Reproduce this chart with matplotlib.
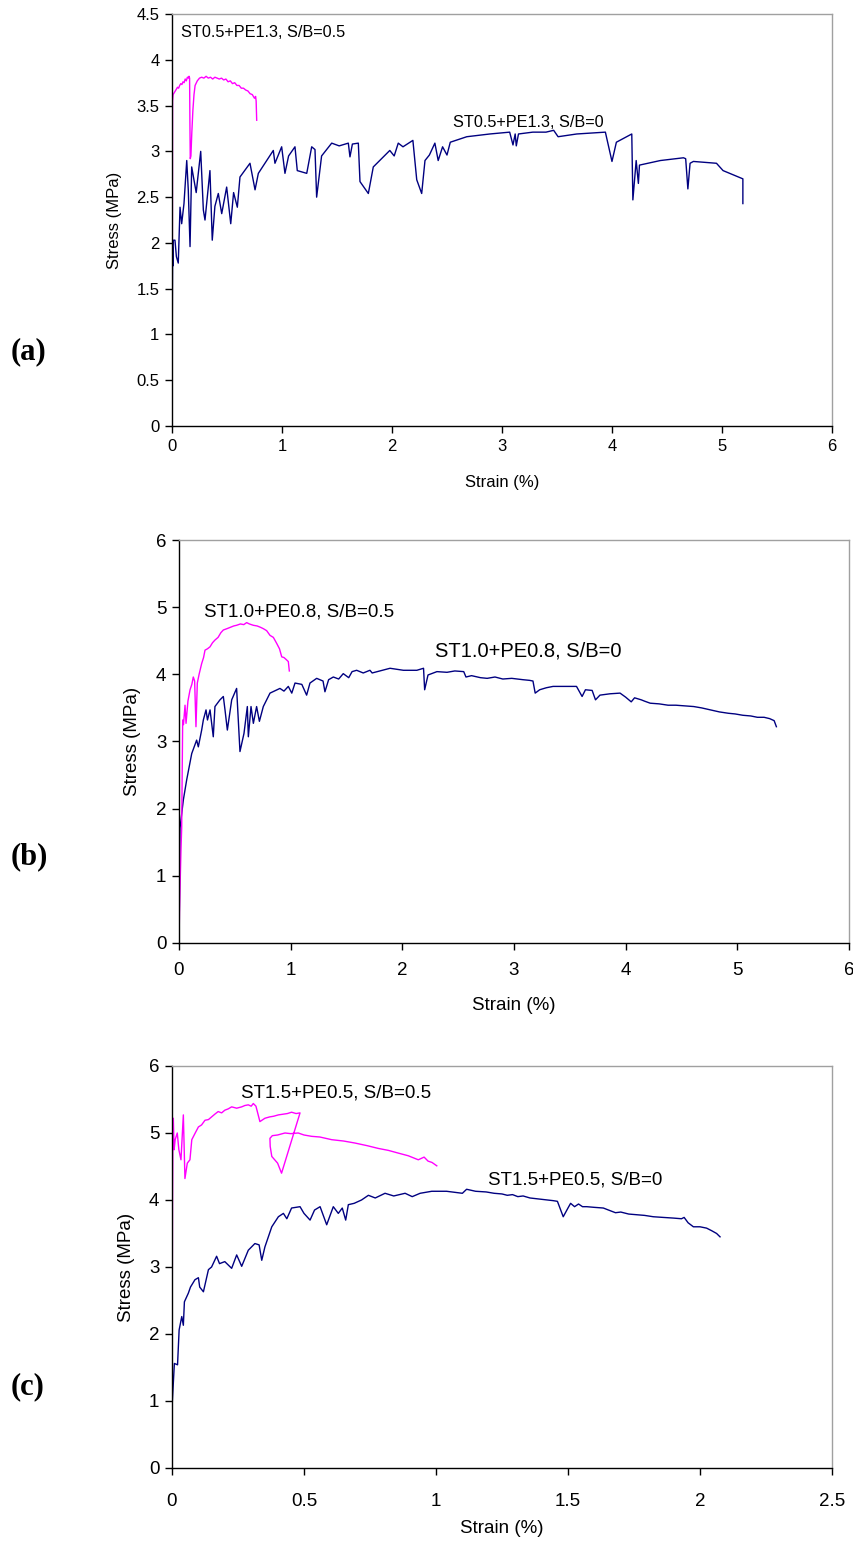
import matplotlib
matplotlib.use('Agg')
import matplotlib.pyplot as plt

plt.rcParams['font.family'] = ['Liberation Sans', 'DejaVu Sans']

PINK = '#ff00ff'
NAVY = '#000080'

##############################################################
# (a) ST0.5+PE1.3

a_pink_strain = [0, 0.002, 0.004, 0.005, 0.01, 0.02, 0.03, 0.04, 0.05, 0.06, 0.07, 0.08, 0.09,
                 0.10, 0.11, 0.12, 0.13, 0.14, 0.15, 0.155, 0.16, 0.163, 0.166, 0.172, 0.18,
                 0.19, 0.20, 0.21, 0.23, 0.25, 0.27, 0.29, 0.31, 0.33, 0.35, 0.37, 0.39, 0.41,
                 0.43, 0.45, 0.47, 0.49, 0.51, 0.53, 0.55, 0.57, 0.59, 0.61, 0.63, 0.65, 0.67,
                 0.69, 0.71, 0.73, 0.75, 0.76, 0.765, 0.77]
a_pink_stress = [0, 1.2, 2.5, 3.55, 3.62, 3.64, 3.66, 3.68, 3.70, 3.69, 3.72, 3.74, 3.73,
                 3.76, 3.75, 3.79, 3.77, 3.81, 3.80, 3.82, 3.80, 3.3, 2.92, 2.95, 3.2,
                 3.45, 3.62, 3.72, 3.77, 3.80, 3.81, 3.80, 3.82, 3.80, 3.81, 3.79, 3.81, 3.80,
                 3.79, 3.80, 3.78, 3.79, 3.76, 3.77, 3.74, 3.75, 3.72, 3.72, 3.69, 3.69, 3.67,
                 3.66, 3.63, 3.62, 3.58, 3.60, 3.55, 3.34]

a_navy_strain = [0, 0.002, 0.004, 0.006, 0.009, 0.012, 0.027, 0.04, 0.057, 0.073, 0.088, 0.109,
                 0.134, 0.148, 0.164, 0.179, 0.22, 0.261, 0.285, 0.30, 0.345, 0.366, 0.39,
                 0.421, 0.452, 0.497, 0.534, 0.56, 0.594, 0.618, 0.709, 0.755, 0.785, 0.921,
                 0.936, 0.997, 1.027, 1.06, 1.118, 1.139, 1.225, 1.27, 1.30, 1.315, 1.36,
                 1.452, 1.52, 1.603, 1.618, 1.64, 1.694, 1.709, 1.785, 1.83, 1.98, 2.02,
                 2.057, 2.10, 2.19, 2.225, 2.27, 2.30, 2.34, 2.39, 2.42, 2.46, 2.50, 2.53,
                 2.68, 2.89, 3.07, 3.10, 3.12, 3.13, 3.15, 3.28, 3.40, 3.47, 3.51, 3.68,
                 3.94, 3.97, 4.00, 4.04, 4.18, 4.19, 4.22, 4.24, 4.25, 4.44, 4.65, 4.67,
                 4.69, 4.71, 4.74, 4.95, 5.01, 5.19, 5.19]
a_navy_stress = [0, 0.8, 1.5, 1.95, 1.75, 2.03, 2.03, 1.85, 1.78, 2.39, 2.21, 2.43,
                 2.90, 2.58, 1.96, 2.83, 2.55, 3.0, 2.36, 2.25, 2.79, 2.03, 2.40,
                 2.54, 2.32, 2.61, 2.21, 2.55, 2.39, 2.72, 2.87, 2.58, 2.76, 3.01,
                 2.87, 3.05, 2.76, 2.95, 3.05, 2.79, 2.76, 3.05, 3.02, 2.50, 2.95,
                 3.09, 3.06, 3.09, 2.94, 3.08, 3.09, 2.67, 2.54, 2.83, 3.01, 2.95,
                 3.09, 3.05, 3.12, 2.69, 2.54, 2.90, 2.96, 3.09, 2.90, 3.05, 2.96, 3.10,
                 3.16, 3.19, 3.21, 3.07, 3.19, 3.06, 3.19, 3.21, 3.21, 3.23, 3.16, 3.19,
                 3.21, 3.05, 2.89, 3.10, 3.19, 2.47, 2.90, 2.65, 2.85, 2.90, 2.93, 2.92,
                 2.59, 2.87, 2.89, 2.87, 2.79, 2.70, 2.43]

a_labels = ['ST0.5+PE1.3, S/B=0.5', 'ST0.5+PE1.3, S/B=0']

##############################################################
# (b) ST1.0+PE0.8

b_pink_strain = [0, 0.005, 0.012, 0.018, 0.024, 0.033, 0.04, 0.054, 0.063, 0.08, 0.099, 0.115,
                 0.128, 0.14, 0.152, 0.164, 0.18, 0.203, 0.22, 0.233, 0.255, 0.278, 0.30,
                 0.322, 0.35, 0.375, 0.397, 0.43, 0.46, 0.49, 0.516, 0.55, 0.58, 0.606,
                 0.63, 0.666, 0.70, 0.73, 0.755, 0.785, 0.815, 0.845, 0.875, 0.90, 0.920,
                 0.94, 0.96, 0.979, 0.988]
b_pink_stress = [0, 0.5, 1.0, 1.4, 1.71, 3.32, 3.25, 3.54, 3.27, 3.6, 3.77, 3.85,
                 3.96, 3.9, 3.22, 3.87, 4.0, 4.16, 4.25, 4.36, 4.38, 4.41, 4.47,
                 4.51, 4.55, 4.62, 4.66, 4.68, 4.70, 4.72, 4.73, 4.75, 4.74, 4.77,
                 4.75, 4.73, 4.72, 4.70, 4.68, 4.65, 4.58, 4.55, 4.46, 4.38, 4.26,
                 4.25, 4.22, 4.19, 4.05]

# early, jagged part of the S/B=0 curve
b_navy_strain = [0, 0.003, 0.006, 0.009, 0.039, 0.069, 0.114, 0.158, 0.173, 0.203, 0.218,
                 0.242, 0.255, 0.278, 0.307, 0.322, 0.367, 0.397, 0.412, 0.433, 0.472,
                 0.516, 0.546, 0.582, 0.612, 0.621, 0.645, 0.666, 0.695, 0.72, 0.755,
                 0.785, 0.815, 0.904, 0.94, 0.979, 1.01, 1.039, 1.10, 1.143, 1.173,
                 1.233, 1.29, 1.307, 1.34, 1.382, 1.43, 1.471, 1.52, 1.55, 1.591, 1.65,
                 1.71, 1.73, 1.89, 2.01, 2.13, 2.19, 2.20, 2.23]
b_navy_stress = [0, 0.5, 1.2, 1.71, 2.13, 2.43, 2.82, 3.02, 2.92, 3.17, 3.32,
                 3.47, 3.32, 3.47, 3.07, 3.52, 3.62, 3.67, 3.47, 3.17, 3.62,
                 3.79, 2.85, 3.12, 3.52, 3.07, 3.52, 3.27, 3.52, 3.30, 3.52,
                 3.62, 3.72, 3.79, 3.75, 3.82, 3.72, 3.87, 3.85, 3.69, 3.87,
                 3.94, 3.90, 3.74, 3.92, 3.96, 3.93, 4.01, 3.95, 4.04, 4.06, 4.02,
                 4.06, 4.02, 4.09, 4.06, 4.06, 4.09, 3.77, 3.99]
# softening tail (strain, stress)
b_navy_tail = [(2.31, 4.04), (2.40, 4.03), (2.47, 4.05), (2.55, 4.04), (2.57, 3.96), (2.62, 3.98),
               (2.70, 3.95), (2.76, 3.94), (2.83, 3.96), (2.90, 3.93), (2.98, 3.94), (3.08, 3.92),
               (3.14, 3.91), (3.17, 3.90), (3.19, 3.72), (3.23, 3.77), (3.29, 3.80), (3.35, 3.82),
               (3.45, 3.82), (3.56, 3.82), (3.61, 3.67), (3.64, 3.77), (3.70, 3.76), (3.73, 3.62),
               (3.77, 3.69), (3.86, 3.71), (3.95, 3.72), (4.00, 3.66), (4.05, 3.59), (4.08, 3.65),
               (4.14, 3.62), (4.17, 3.60), (4.22, 3.57), (4.30, 3.56), (4.38, 3.54), (4.45, 3.54),
               (4.53, 3.53), (4.61, 3.52), (4.68, 3.50), (4.76, 3.47), (4.84, 3.44), (4.92, 3.42),
               (4.98, 3.41), (5.05, 3.39), (5.12, 3.38), (5.18, 3.36), (5.24, 3.36), (5.29, 3.34),
               (5.33, 3.31), (5.35, 3.22)]

b_labels = ['ST1.0+PE0.8, S/B=0.5', 'ST1.0+PE0.8, S/B=0']

##############################################################
# (c) ST1.5+PE0.5

c_pink_strain = [0, 0.001, 0.002, 0.003, 0.005, 0.008, 0.012, 0.02, 0.026, 0.034, 0.043,
                 0.049, 0.058, 0.068, 0.075, 0.088, 0.10, 0.112, 0.125, 0.138, 0.15, 0.162,
                 0.175, 0.188, 0.20, 0.213, 0.226, 0.245, 0.264, 0.276, 0.289, 0.30,
                 0.308, 0.318, 0.333, 0.352, 0.37, 0.385, 0.403, 0.42, 0.437, 0.453,
                 0.47, 0.485, 0.415, 0.40, 0.378, 0.372, 0.371, 0.38, 0.40, 0.428, 0.45,
                 0.478, 0.50, 0.529, 0.56, 0.605, 0.65, 0.693, 0.74, 0.781, 0.82, 0.857,
                 0.895, 0.933, 0.955, 0.97, 0.985, 1.003]
c_pink_stress = [0, 2.6, 4.0, 4.7, 5.22, 4.75, 4.9, 5.0, 4.75, 4.6, 5.27,
                 4.32, 4.55, 4.6, 4.9, 5.0, 5.09, 5.12, 5.19, 5.2, 5.24, 5.28,
                 5.32, 5.30, 5.34, 5.36, 5.39, 5.37, 5.39, 5.41, 5.42, 5.40,
                 5.44, 5.40, 5.17, 5.22, 5.24, 5.25, 5.27, 5.28, 5.29, 5.31,
                 5.29, 5.30, 4.40, 4.55, 4.65, 4.80, 4.92, 4.96, 4.97, 5.0, 4.99,
                 5.0, 4.97, 4.95, 4.94, 4.90, 4.88, 4.85, 4.81, 4.77, 4.74, 4.70,
                 4.66, 4.60, 4.64, 4.58, 4.56, 4.51]

c_navy_strain = [0, 0.001, 0.009, 0.021, 0.027, 0.037, 0.043, 0.047, 0.062, 0.07, 0.087,
                 0.10, 0.105, 0.119, 0.138, 0.15, 0.169, 0.18, 0.20, 0.226, 0.245, 0.264,
                 0.289, 0.314, 0.33, 0.34, 0.352, 0.378, 0.403, 0.422, 0.435, 0.453,
                 0.485, 0.50, 0.523, 0.54, 0.561, 0.586, 0.611, 0.63, 0.645, 0.658,
                 0.668, 0.69, 0.718, 0.744, 0.77, 0.807, 0.84, 0.883, 0.91, 0.94]
c_navy_stress = [0, 0.97, 1.56, 1.54, 2.06, 2.26, 2.13, 2.48, 2.61, 2.70, 2.81,
                 2.84, 2.70, 2.63, 2.96, 3.0, 3.16, 3.05, 3.08, 2.98, 3.18, 3.01,
                 3.25, 3.35, 3.33, 3.10, 3.30, 3.60, 3.75, 3.80, 3.72, 3.88,
                 3.90, 3.80, 3.70, 3.85, 3.90, 3.63, 3.90, 3.80, 3.88, 3.70,
                 3.93, 3.95, 4.00, 4.07, 4.03, 4.10, 4.06, 4.10, 4.05, 4.10]
c_navy_tail = [(0.984, 4.13), (1.04, 4.13), (1.10, 4.10), (1.116, 4.16), (1.15, 4.13), (1.19, 4.12),
               (1.22, 4.10), (1.25, 4.09), (1.27, 4.07), (1.29, 4.08), (1.31, 4.05), (1.33, 4.06),
               (1.356, 4.03), (1.40, 4.01), (1.444, 3.99), (1.46, 3.98), (1.482, 3.75), (1.50, 3.88),
               (1.51, 3.95), (1.525, 3.90), (1.54, 3.94), (1.555, 3.90), (1.571, 3.90), (1.60, 3.89),
               (1.634, 3.88), (1.66, 3.84), (1.68, 3.81), (1.70, 3.82), (1.73, 3.79), (1.76, 3.78),
               (1.79, 3.77), (1.823, 3.75), (1.86, 3.74), (1.899, 3.73), (1.93, 3.72), (1.94, 3.74),
               (1.955, 3.66), (1.975, 3.60), (2.00, 3.60), (2.025, 3.58), (2.045, 3.54), (2.063, 3.50),
               (2.076, 3.45)]

c_labels = ['ST1.5+PE0.5, S/B=0.5', 'ST1.5+PE0.5, S/B=0']


def style_axes(ax, xticks, yticks, fs, xpad, xlab_y, ylab_x):
    ax.set_xlim(xticks[0], xticks[-1])
    ax.set_ylim(yticks[0], yticks[-1])
    ax.set_xticks(xticks)
    ax.set_yticks(yticks)
    ax.set_xticklabels(['%g' % t for t in xticks])
    ax.set_yticklabels(['%g' % t for t in yticks])
    ax.spines['top'].set_color('#a0a0a0')
    ax.spines['right'].set_color('#a0a0a0')
    ax.spines['left'].set_color('black')
    ax.spines['bottom'].set_color('black')
    for s in ax.spines.values():
        s.set_linewidth(1.0)
    ax.tick_params(direction='out', length=5, width=1, labelsize=fs, pad=4)
    ax.tick_params(axis='x', pad=xpad)
    ax.set_xlabel('Strain (%)', fontsize=fs)
    ax.set_ylabel('Stress (MPa)', fontsize=fs)
    ax.xaxis.set_label_coords(0.5, xlab_y)
    ax.yaxis.set_label_coords(ylab_x, 0.5)


fig = plt.figure(figsize=(8.54, 15.42), dpi=100)

# (a)
ax1 = fig.add_axes([0.2014, 0.7237, 0.7728, 0.2672])
ax1.plot(a_navy_strain, a_navy_stress, color=NAVY, lw=1.0)
ax1.plot(a_pink_strain, a_pink_stress, color=PINK, lw=1.0)
style_axes(ax1, [0, 1, 2, 3, 4, 5, 6], [0, 0.5, 1, 1.5, 2, 2.5, 3, 3.5, 4, 4.5],
           12, 4, -0.12, -0.075)
ax1.text(0.08, 4.30, a_labels[0], fontsize=11.7, va='center')
ax1.text(2.555, 3.31, a_labels[1], fontsize=11.7, va='center')

# (b)
ax2 = fig.add_axes([0.2096, 0.3885, 0.7845, 0.2613])
ax2.plot(b_navy_strain + [p[0] for p in b_navy_tail],
         b_navy_stress + [p[1] for p in b_navy_tail], color=NAVY, lw=1.0)
ax2.plot(b_pink_strain, b_pink_stress, color=PINK, lw=1.0)
style_axes(ax2, [0, 1, 2, 3, 4, 5, 6], [0, 1, 2, 3, 4, 5, 6], 13.5, 9, -0.135, -0.056)
ax2.text(0.227, 4.93, b_labels[0], fontsize=13.5, va='center')
ax2.text(2.29, 4.34, b_labels[1], fontsize=14.5, va='center')

# (c)
ax3 = fig.add_axes([0.2014, 0.0480, 0.7728, 0.2607])
ax3.plot(c_navy_strain + [p[0] for p in c_navy_tail],
         c_navy_stress + [p[1] for p in c_navy_tail], color=NAVY, lw=1.0)
ax3.plot(c_pink_strain, c_pink_stress, color=PINK, lw=1.0)
style_axes(ax3, [0, 0.5, 1, 1.5, 2, 2.5], [0, 1, 2, 3, 4, 5, 6], 13.5, 13, -0.13, -0.056)
ax3.text(0.261, 5.59, c_labels[0], fontsize=13.5, va='center')
ax3.text(1.198, 4.30, c_labels[1], fontsize=13.5, va='center')

# panel letters
for lab, y in [('(a)', 0.7717), ('(b)', 0.4442), ('(c)', 0.1005)]:
    fig.text(0.012, y, lab, fontsize=22, fontweight='bold', va='center',
             family=['Liberation Serif', 'DejaVu Serif'])

fig.savefig('out.png', dpi=100)
